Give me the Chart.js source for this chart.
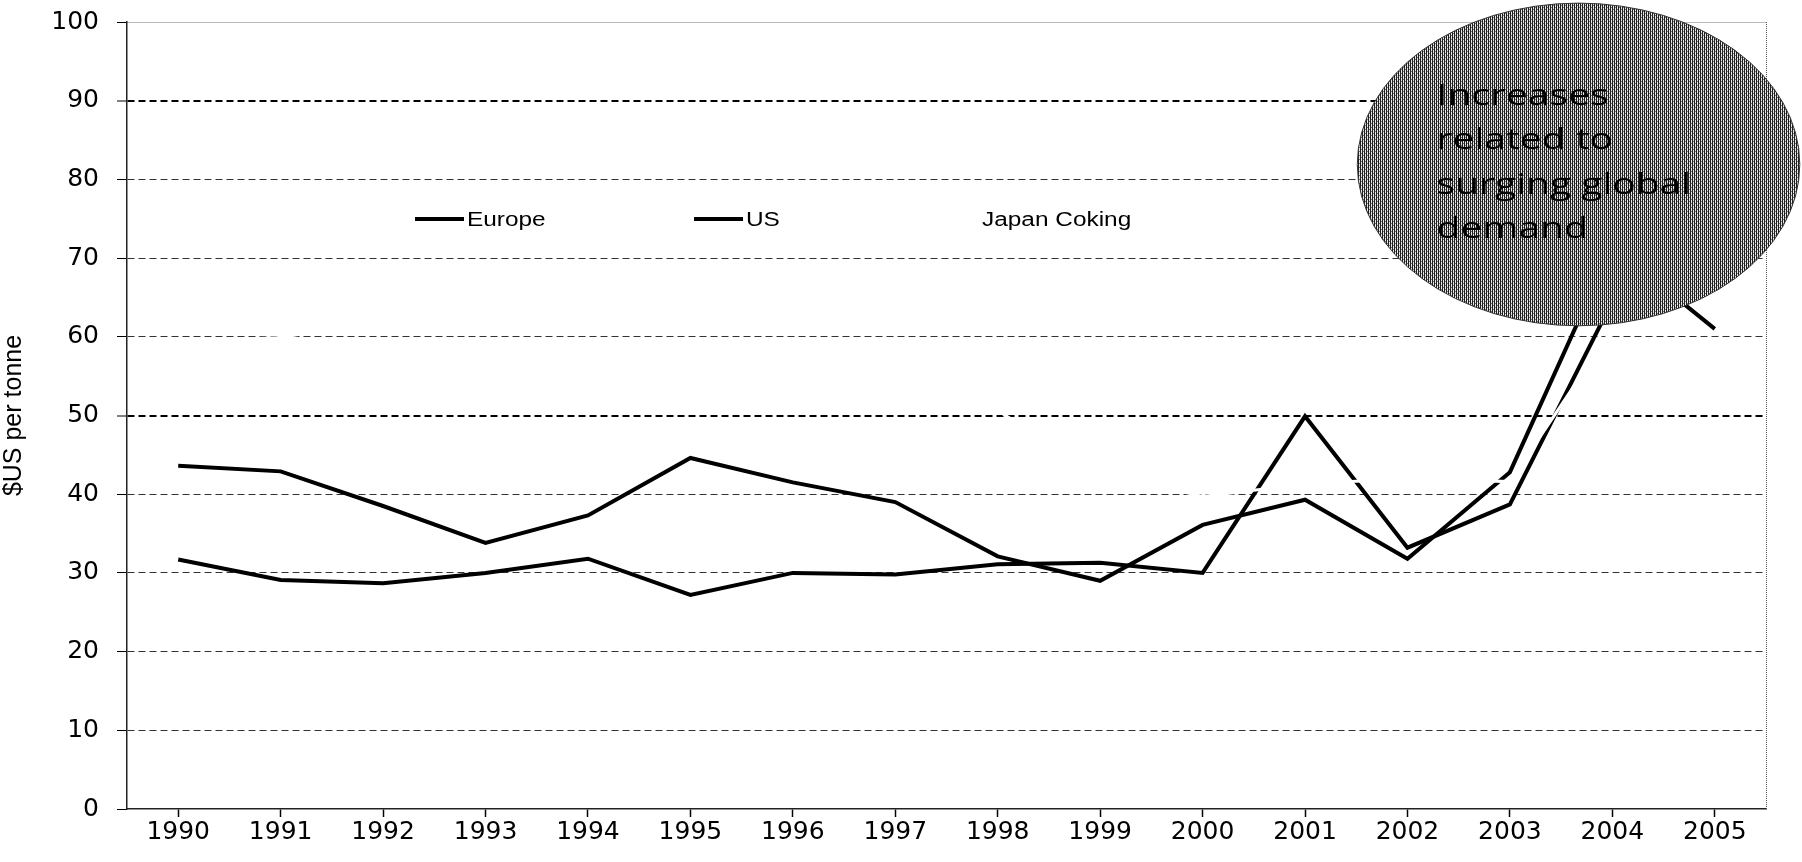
<!DOCTYPE html>
<html>
<head>
<meta charset="utf-8">
<title>Coal prices</title>
<script src="https://cdn.jsdelivr.net/npm/chart.js@4.4.1/dist/chart.umd.min.js"></script>
<style>
  html, body { margin: 0; padding: 0; background: #fff; }
  #wrap { width: 1802px; height: 862px; }
</style>
</head>
<body>
<div id="wrap"><canvas id="coalChart" width="1802" height="862"></canvas></div>
<script>
// values ($US per tonne)
const years = ["1990", "1991", "1992", "1993", "1994", "1995", "1996", "1997",
               "1998", "1999", "2000", "2001", "2002", "2003", "2004", "2005"];
const europe = [43.6, 42.9, 38.5, 33.8, 37.3, 44.6, 41.5, 39.0, 32.1, 29.0, 36.1, 39.3, 31.8, 42.8, 71.5, 61.0];
const us = [31.7, 29.1, 28.7, 30.0, 31.8, 27.2, 30.0, 29.8, 31.1, 31.3, 30.0, 49.9, 33.2, 38.7, 64.5, 70.0];
// drawn in white in the original, only visible where it cuts other lines
const japanCoking = [60.6, 60.2, 57.8, 55.3, 51.8, 54.5, 56.7, 55.5, 50.6, 42.8, 39.7, 41.3, 42.0, 41.6, 61.0, 89.3];
const yMin = 0, yMax = 100, yStep = 10;

const noteLines = ["Increases", "related to", "surging global", "demand"];
const TEXT_STRETCH = 1.22; // the source image is stretched sideways

// legend entries (sample line start x, in canvas px)
const legendItems = [
  { label: "Europe", color: "#000", x: 415 },
  { label: "US", color: "#000", x: 694 },
  { label: "Japan Coking", color: "#fff", x: 930 }
];

function makeHatch() {
  const c = document.createElement("canvas");
  c.width = 4; c.height = 4;
  const g = c.getContext("2d");
  g.fillStyle = "#e8e8e8";
  g.fillRect(0, 0, 4, 4);
  g.fillStyle = "#1e1e1e";
  g.fillRect(0, 0, 1, 4);
  g.fillRect(2, 0, 1, 4);
  g.fillStyle = "#777";
  g.fillRect(1, 1, 1, 1);
  g.fillRect(3, 3, 1, 1);
  return c;
}

const plotFrame = {
  id: "plotFrame",
  beforeDatasetsDraw(chart) {
    const { ctx, chartArea } = chart;
    ctx.save();
    ctx.strokeStyle = "#555";
    ctx.lineWidth = 1;
    ctx.setLineDash([1, 1]);
    ctx.beginPath();
    ctx.moveTo(chartArea.right + 0.5, chartArea.top);
    ctx.lineTo(chartArea.right + 0.5, chartArea.bottom);
    ctx.stroke();
    ctx.restore();
  },
  afterDraw(chart) {
    const { ctx, chartArea } = chart;
    // y axis title
    ctx.save();
    ctx.translate(14, (chartArea.top + chartArea.bottom) / 2);
    ctx.rotate(-Math.PI / 2);
    ctx.font = "25px 'Liberation Sans', Arial, sans-serif";
    ctx.fillStyle = "#000";
    ctx.textAlign = "center";
    ctx.textBaseline = "middle";
    ctx.fillText("$US per tonne", 0, 0);
    ctx.restore();

    // legend
    const ly = 219;
    ctx.save();
    ctx.font = "20px 'Liberation Sans', Arial, sans-serif";
    ctx.textBaseline = "middle";
    legendItems.forEach(it => {
      ctx.strokeStyle = it.color;
      ctx.lineWidth = 4;
      ctx.beginPath();
      ctx.moveTo(it.x, ly);
      ctx.lineTo(it.x + 49, ly);
      ctx.stroke();
      ctx.save();
      ctx.translate(it.x + 52, ly);
      ctx.scale(TEXT_STRETCH, 1);
      ctx.fillStyle = "#000";
      ctx.fillText(it.label, 0, 1);
      ctx.restore();
    });
    ctx.restore();
  }
};

const calloutNote = {
  id: "calloutNote",
  afterDraw(chart) {
    const { ctx } = chart;
    const xs = chart.scales.x, ys = chart.scales.y;
    // placed in data units: category index 13.67, value 81.9
    const cx = xs.getPixelForValue(13.67);
    const cy = ys.getPixelForValue(81.9);
    const rx = xs.getPixelForValue(13.67 + 2.16) - cx;
    const ry = ys.getPixelForValue(81.9 - 20.5) - cy;
    ctx.save();
    ctx.beginPath();
    ctx.ellipse(cx, cy, rx, ry, 0, 0, Math.PI * 2);
    ctx.fillStyle = ctx.createPattern(makeHatch(), "repeat");
    ctx.fill();
    ctx.strokeStyle = "#333";
    ctx.lineWidth = 1;
    ctx.stroke();

    ctx.fillStyle = "#000";
    ctx.font = "30px 'Open Sans', 'DejaVu Sans', sans-serif";
    ctx.textBaseline = "alphabetic";
    noteLines.forEach((t, i) => {
      ctx.save();
      ctx.translate(cx - 142, cy - 59.5 + i * 44.5);
      ctx.scale(1.3, 1);
      ctx.fillText(t, 0, 0);
      ctx.restore();
    });
    ctx.restore();
  }
};

const isBold = v => v === 90 || v === 50;

new Chart(document.getElementById("coalChart"), {
  type: "line",
  data: {
    labels: years,
    datasets: [
      { label: "Europe", data: europe, borderColor: "#000", borderWidth: 4,
        pointRadius: 0, tension: 0, fill: false, order: 1 },
      { label: "US", data: us, borderColor: "#000", borderWidth: 4,
        pointRadius: 0, tension: 0, fill: false, order: 1 },
      { label: "Japan Coking", data: japanCoking, borderColor: "#fff", borderWidth: 3,
        pointRadius: 0, tension: 0, fill: false, order: 0 }
    ]
  },
  options: {
    responsive: false,
    animation: false,
    devicePixelRatio: 1,
    layout: { padding: { top: 22, right: 36, left: 0, bottom: 0 } },
    plugins: {
      legend: { display: false },
      tooltip: { enabled: false }
    },
    scales: {
      x: {
        offset: true,
        afterFit(scale) { scale.height = 53; },
        grid: { drawOnChartArea: false, drawTicks: true, tickLength: 8,
                color: "#000", tickColor: "#000", tickWidth: 1.5 },
        border: { display: true, color: "#222", width: 1.5 },
        ticks: { color: "#000", padding: 0, maxRotation: 0, autoSkip: false,
                 font: { family: "'DejaVu Sans', sans-serif", size: 25 } }
      },
      y: {
        min: yMin, max: yMax,
        afterFit(scale) {
          scale.width = 127;
          scale.paddingTop = 0;
          scale.paddingBottom = 0;
        },
        grid: {
          color: ctx => {
            const v = ctx.tick ? ctx.tick.value : null;
            if (v === 0) return "rgba(0,0,0,0)";
            if (v === 100) return "#777";
            return isBold(v) ? "#000" : "#333";
          },
          lineWidth: ctx => (ctx.tick && isBold(ctx.tick.value)) ? 2 : 1,
          tickLength: 10, tickColor: "#000", tickWidth: 1, tickBorderDash: []
        },
        border: {
          display: true, color: "#222", width: 1.5,
          dash: ctx => (ctx.tick && ctx.tick.value === 100) ? [1, 1] : [7, 4]
        },
        ticks: { stepSize: yStep, color: "#000", padding: 18,
                 font: { family: "'DejaVu Sans', sans-serif", size: 25 } }
      }
    }
  },
  plugins: [plotFrame, calloutNote]
});
</script>
</body>
</html>
